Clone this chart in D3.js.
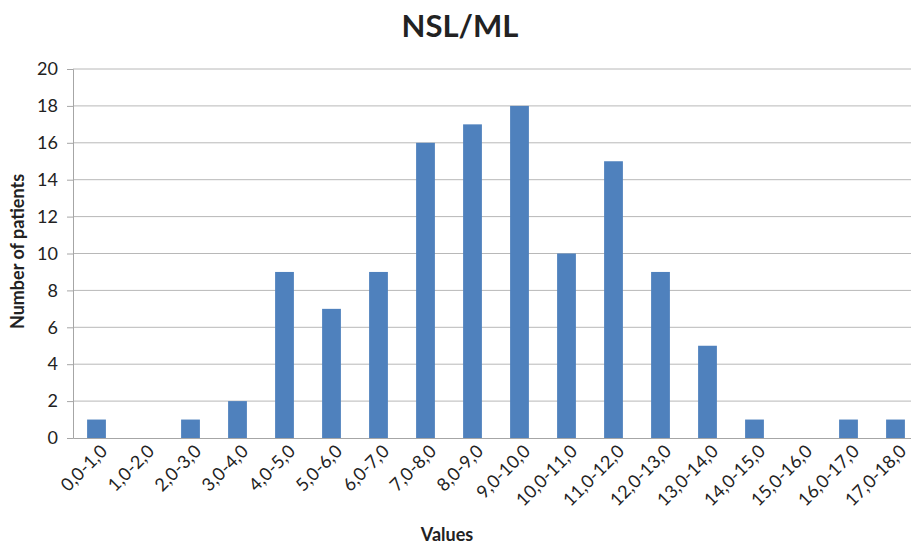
<!DOCTYPE html>
<meta charset="utf-8">
<title>NSL/ML</title>
<style>
  body { margin: 0; background: #fff; }
  text { font-family: Lato, "Open Sans", sans-serif; fill: #222; }
</style>
<body>
<div id="chart"></div>
<script src="https://d3js.org/d3.v7.min.js"></script>
<script>
// categories and counts
var categories = ["0,0-1,0", "1,0-2,0", "2,0-3,0", "3,0-4,0", "4,0-5,0", "5,0-6,0",
  "6,0-7,0", "7,0-8,0", "8,0-9,0", "9,0-10,0", "10,0-11,0", "11,0-12,0",
  "12,0-13,0", "13,0-14,0", "14,0-15,0", "15,0-16,0", "16,0-17,0", "17,0-18,0"];
var patients = [1, 0, 1, 2, 9, 7, 9, 16, 17, 18, 10, 15, 9, 5, 1, 0, 1, 1];
var yTicks = [0, 2, 4, 6, 8, 10, 12, 14, 16, 18, 20];

var W = 911, H = 546;
var margin = {top: 69, right: -8, bottom: 108, left: 73},
    width = W - margin.left - margin.right,
    height = H - margin.top - margin.bottom;

var svg = d3.select("#chart").append("svg")
    .attr("width", W)
    .attr("height", H);

var g = svg.append("g")
    .attr("transform", "translate(" + margin.left + "," + margin.top + ")");

var x = d3.scaleBand()
    .domain(categories)
    .range([0, width])
    .paddingInner(0.6)
    .paddingOuter(0.3);

var y = d3.scaleLinear()
    .domain([0, 20])
    .range([height, 0]);

// gridlines
g.append("g")
  .selectAll("line")
  .data(yTicks.filter(function(d) { return d > 0; }))
  .enter().append("line")
    .attr("x1", 0)
    .attr("x2", width)
    .attr("y1", function(d) { return y(d); })
    .attr("y2", function(d) { return y(d); })
    .attr("stroke", "#b8b8b8")
    .attr("stroke-width", 1);

// y axis
var yAxis = g.append("g")
    .call(d3.axisLeft(y).tickValues(yTicks).tickSize(6).tickPadding(9));
yAxis.select(".domain").attr("stroke", "#a6a6a6");
yAxis.selectAll(".tick line").attr("stroke", "#a6a6a6");
yAxis.selectAll("text")
    .style("font-size", "18px")
    .attr("fill", "#222");

// bars
g.selectAll("rect.bar")
  .data(patients)
  .enter().append("rect")
    .attr("class", "bar")
    .attr("x", function(d, i) { return x(categories[i]); })
    .attr("y", function(d) { return y(d); })
    .attr("width", x.bandwidth())
    .attr("height", function(d) { return height - y(d); })
    .attr("fill", "#4f81bd");

// x axis
var xAxis = g.append("g")
    .attr("transform", "translate(0," + height + ")")
    .call(d3.axisBottom(x).tickSize(0).tickPadding(15));
xAxis.select(".domain").attr("stroke", "#a6a6a6");
xAxis.selectAll("text")
    .style("font-size", "18px")
    .style("text-anchor", "end")
    .attr("fill", "#222")
    .attr("dx", "-0.1em")
    .attr("dy", "0.2em")
    .attr("transform", "rotate(-45)");

// title
svg.append("text")
    .attr("x", 460)
    .attr("y", 37)
    .attr("text-anchor", "middle")
    .style("font-size", "31px")
    .style("font-weight", "bold")
    .attr("fill", "#000")
    .text("NSL/ML");

// axis titles
svg.append("text")
    .attr("transform", "translate(24," + (margin.top + height / 2 - 2) + ") rotate(-90)")
    .attr("text-anchor", "middle")
    .style("font-size", "18px")
    .style("font-weight", "bold")
    .text("Number of patients");

svg.append("text")
    .attr("x", 447)
    .attr("y", 541)
    .attr("text-anchor", "middle")
    .style("font-size", "18px")
    .style("font-weight", "bold")
    .text("Values");
</script>
</body>
